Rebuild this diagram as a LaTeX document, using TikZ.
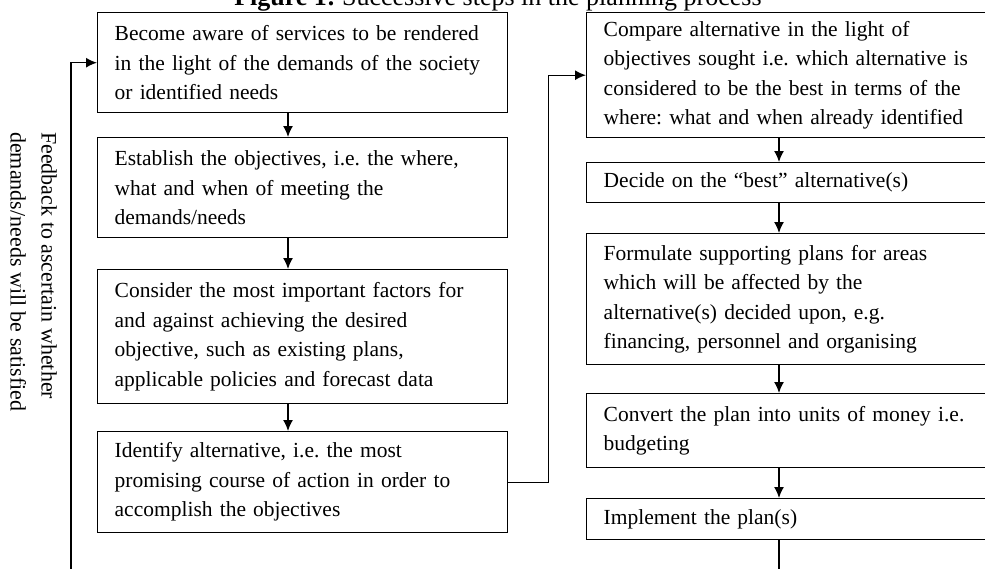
\documentclass[tikz,border=0pt]{standalone}
\usepackage{fontspec}
\setmainfont{Liberation Serif}
\usetikzlibrary{calc,arrows.meta}
\frenchspacing

\tikzset{
    stepbox/.style={draw, line width=1.4pt, anchor=north west, align=left, inner xsep=17pt, inner ysep=0pt, minimum width=410, text width=376, font=\fontsize{21.5}{29.5}\selectfont},
    flow/.style={draw, line width=1.4pt, -{Latex[length=11pt,width=10pt]}}
}

\begin{document}
\begin{tikzpicture}[x=1pt, y=-1pt]
    \useasboundingbox (0,0) rectangle (985,568);
    \node[anchor=base, font=\fontsize{26}{30}\selectfont] at (498,5.5) (title) {\textbf{Figure 1:} Successive steps in the planning process};
    \node[stepbox, minimum height=100] at (97,12) (L1) {Become aware of services to be rendered\\in the light of the demands of the society\\or identified needs};
    \node[stepbox, minimum height=100] at (97,137) (L2) {Establish the objectives, i.e. the where,\\what and when of meeting the\\demands/needs};
    \node[stepbox, minimum height=134] at (97,269) (L3) {Consider the most important factors for\\and against achieving the desired\\objective, such as existing plans,\\applicable policies and forecast data};
    \node[stepbox, minimum height=101] at (97,431) (L4) {Identify alternative, i.e. the most\\promising course of action in order to\\accomplish the objectives};
    \node[stepbox, minimum height=125] at (586,12) (R1) {Compare alternative in the light of\\objectives sought i.e. which alternative is\\considered to be the best in terms of the\\where: what and when already identified};
    \node[stepbox, minimum height=40] at (586,162) (R2) {Decide on the “best” alternative(s)};
    \node[stepbox, minimum height=131] at (586,233) (R3) {Formulate supporting plans for areas\\which will be affected by the\\alternative(s) decided upon, e.g.\\financing, personnel and organising};
    \node[stepbox, minimum height=74] at (586,393) (R4) {Convert the plan into units of money i.e.\\budgeting};
    \node[stepbox, minimum height=41] at (586,498) (R5) {Implement the plan(s)};
    \node[rotate=-90, anchor=north west, align=left, inner sep=0pt, font=\fontsize{22}{31}\selectfont] at (57,132) (fbtext) {Feedback to ascertain whether\\demands/needs will be satisfied};
    \coordinate (lx) at (288,0);
    \coordinate (rx) at (779,0);
    \coordinate (fb) at (71,600);
    \draw[flow] (L1.south -| lx) -- (L2.north -| lx);
    \draw[flow] (L2.south -| lx) -- (L3.north -| lx);
    \draw[flow] (L3.south -| lx) -- (L4.north -| lx);
    \draw[flow] (L4.east) -- ++(40,0) |- (R1.west);
    \draw[flow] (R1.south -| rx) -- (R2.north -| rx);
    \draw[flow] (R2.south -| rx) -- (R3.north -| rx);
    \draw[flow] (R3.south -| rx) -- (R4.north -| rx);
    \draw[flow] (R4.south -| rx) -- (R5.north -| rx);
    \draw[flow] (R5.south -| rx) |- (fb) |- (L1.west);
\end{tikzpicture}
\end{document}
